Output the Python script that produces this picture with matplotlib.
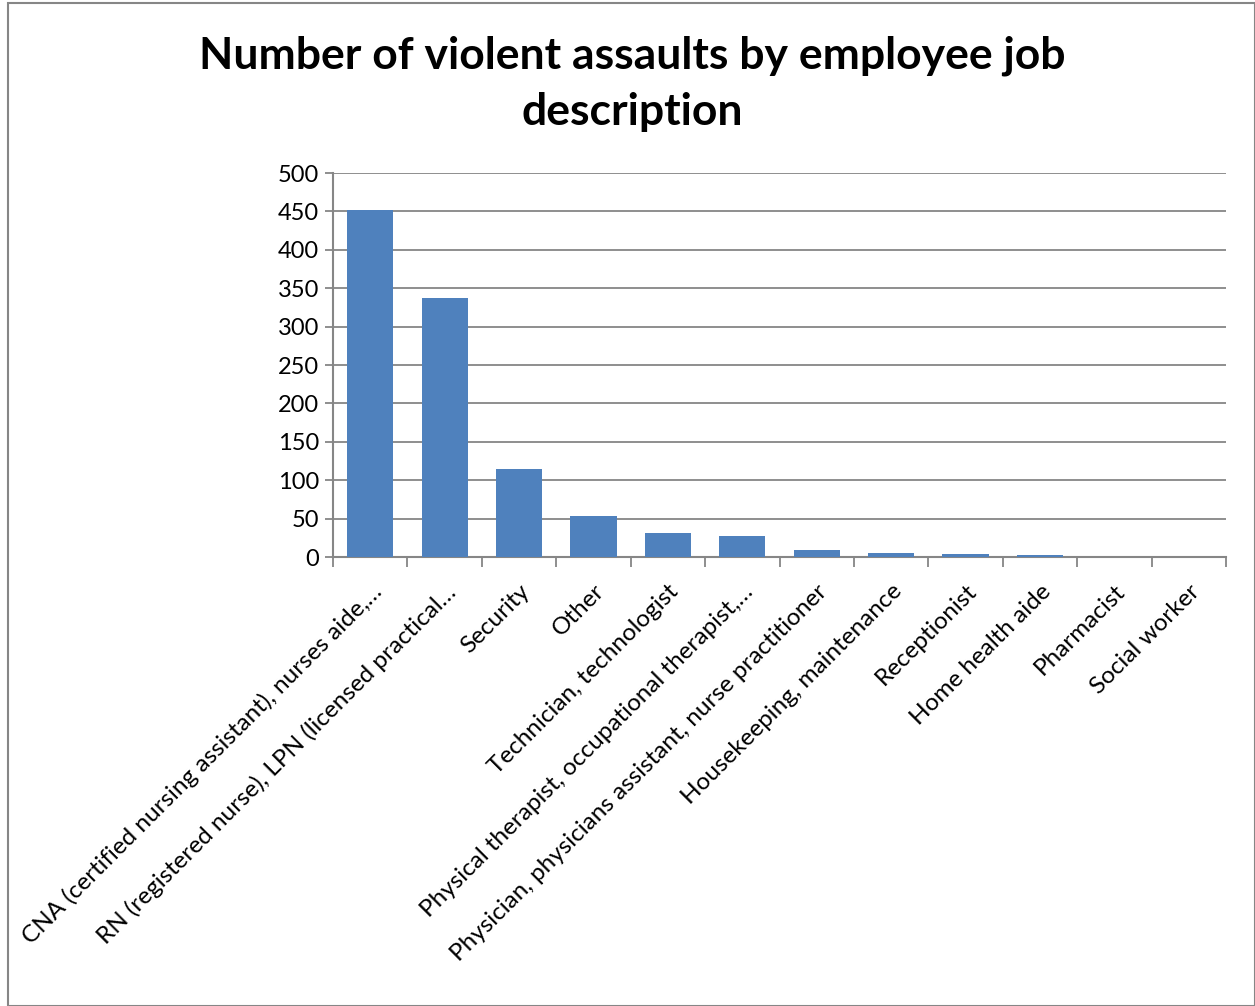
import matplotlib.pyplot as plt
from matplotlib.patches import Rectangle

plt.rcParams['font.family'] = ['Lato', 'DejaVu Sans']

categories = [
    "CNA (certified nursing assistant), nurses aide,…",
    "RN (registered nurse), LPN (licensed practical…",
    "Security",
    "Other",
    "Technician, technologist",
    "Physical therapist, occupational therapist,…",
    "Physician, physicians assistant, nurse practitioner",
    "Housekeeping, maintenance",
    "Receptionist",
    "Home health aide",
    "Pharmacist",
    "Social worker",
]
values = [452, 337, 115, 54, 31, 27, 9, 5, 4, 2, 0, 0]
yticks = [0, 50, 100, 150, 200, 250, 300, 350, 400, 450, 500]

grid_col = "#868686"
bar_col = "#4F81BD"

fig = plt.figure(figsize=(12.55, 10.06), dpi=100)
ax = fig.add_axes([333 / 1255, 1 - 557 / 1006, 893 / 1255, 384 / 1006])

n = len(categories)
x = list(range(n))
ax.bar(x, values, width=0.62, color=bar_col, zorder=3)

ax.set_xlim(-0.5, n - 0.5)
ax.set_ylim(0, 500)
ax.set_yticks(yticks)
ax.tick_params(axis='y', labelsize=17, length=6, width=1.3, color=grid_col, pad=4)
ax.yaxis.grid(True, color=grid_col, linewidth=1.3, zorder=0)

ax.set_xticks(x)
ax.set_xticklabels(categories, rotation=45, ha='right', rotation_mode='anchor', fontsize=17.5)
ax.tick_params(axis='x', length=0, pad=17)
ax.set_xticks([i - 0.5 for i in range(n + 1)], minor=True)
ax.tick_params(axis='x', which='minor', length=7, width=1.3, color=grid_col)

for s in ['top', 'right']:
    ax.spines[s].set_visible(False)
for s in ['left', 'bottom']:
    ax.spines[s].set_color(grid_col)
    ax.spines[s].set_linewidth(1.5)

fig.text(632 / 1255, 1 - 84 / 1006, "Number of violent assaults by employee job\ndescription",
         ha='center', va='center', fontsize=32, fontweight='bold', linespacing=1.5)

fig.patches.append(Rectangle((8 / 1255, 0), 1 - 8 / 1255, 1 - 3 / 1006, transform=fig.transFigure,
                             fill=False, edgecolor=grid_col, linewidth=1.5))

fig.savefig("out.png", dpi=100)
